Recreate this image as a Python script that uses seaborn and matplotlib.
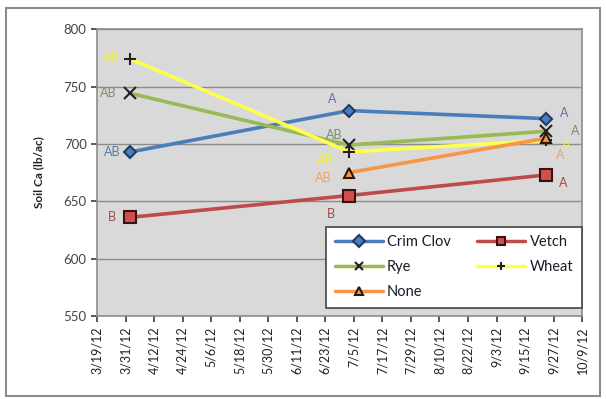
import matplotlib
matplotlib.use("Agg")
import matplotlib.pyplot as plt
import matplotlib.dates as mdates
from matplotlib.patches import Rectangle
import pandas as pd
import seaborn as sns

# Sampling dates and soil calcium by cover crop
sample_dates = ["2012-04-02", "2012-07-03", "2012-09-24"]
crim_clov = [693, 729, 722]
vetch = [636, 655, 673]
rye = [744, 699, 711]
wheat = [774, 693, 703]
none = [None, 675, 705]

# Mean-separation letters for each point
crim_letters = ["AB", "A", "A"]
vetch_letters = ["B", "B", "A"]
rye_letters = ["AB", "AB", "A"]
wheat_letters = ["AB", "AB", "A"]
none_letters = [None, "AB", "A"]

tick_start, tick_end, tick_step_days = "2012-03-19", "2012-10-09", 12

series = [
    ("Crim Clov", crim_clov, crim_letters),
    ("Vetch", vetch, vetch_letters),
    ("Rye", rye, rye_letters),
    ("Wheat", wheat, wheat_letters),
    ("None", none, none_letters),
]

styles = {
    "Crim Clov": dict(color="#4a7ebb", marker="D", mfc="#4a7ebb", mec="#1f3a66", ms=6),
    "Vetch": dict(color="#be4b48", marker="s", mfc="#d0504e", mec="#3a1010", ms=8),
    "Rye": dict(color="#98b954", marker="x", mfc="black", mec="#222222", ms=8),
    "Wheat": dict(color="#ffff4d", marker="+", mfc="black", mec="#222222", ms=8),
    "None": dict(color="#f79646", marker="^", mfc="#f79646", mec="#2a1a0a", ms=7),
}
letter_colors = {
    "Crim Clov": "#5a78a8",
    "Vetch": "#a04a48",
    "Rye": "#7d8c6c",
    "Wheat": "#f2f23a",
    "None": "#f0a070",
}
# label offsets (points) per series and sample
letter_offsets = {
    "Crim Clov": [(-13, 0), (-12, 8), (13, 4)],
    "Vetch": [(-13, 0), (-13, -13), (12, -6)],
    "Rye": [(-16, 0), (-11, 7), (21, 0)],
    "Wheat": [(-14, 1), (-17, -6), (14, -3)],
    "None": [None, (-19, -4), (10, -12)],
}

rows = []
for name, vals, _ in series:
    for d, v in zip(sample_dates, vals):
        if v is not None:
            rows.append({"date": pd.Timestamp(d), "ca": v, "cover": name})
df = pd.DataFrame(rows)

sns.set_theme(style="white")
plt.rcParams["font.family"] = ["Lato", "DejaVu Sans"]

fig = plt.figure(figsize=(6.07, 3.99), dpi=100)
ax = fig.add_axes([0.160, 0.208, 0.799, 0.719])
ax.set_facecolor("#d9d9d9")

# outer chart frame
fig.patches.append(Rectangle((6 / 607, 3 / 399), 594 / 607, 388 / 399,
                             transform=fig.transFigure, fill=False,
                             edgecolor="#8c8c8c", linewidth=1.5))

handles = {}
for name, vals, letters in series:
    st = styles[name]
    sub = df[df["cover"] == name]
    sns.lineplot(data=sub, x="date", y="ca", ax=ax, color=st["color"],
                 linewidth=2.6, marker=st["marker"], markersize=st["ms"],
                 markerfacecolor=st["mfc"], markeredgecolor=st["mec"],
                 markeredgewidth=1.5, label=name, zorder=3)
    handles[name] = ax.get_lines()[-1]
    for d, v, lab, off in zip(sample_dates, vals, letters, letter_offsets[name]):
        if v is None or lab is None:
            continue
        ax.annotate(lab, (mdates.date2num(pd.Timestamp(d)), v), xytext=off,
                    textcoords="offset points", ha="center", va="center",
                    fontsize=9, color=letter_colors[name], zorder=4)

ax.set_ylim(550, 800)
ax.set_yticks(range(550, 801, 50))
ax.grid(axis="y", color="#8c8c8c", linewidth=1)
ax.set_axisbelow(True)

tick_dates = pd.date_range(tick_start, tick_end, freq=f"{tick_step_days}D")
ax.set_xlim(mdates.date2num(tick_dates[0]), mdates.date2num(tick_dates[-1]))
ax.set_xticks(mdates.date2num(tick_dates))
ax.set_xticklabels([f"{d.month}/{d.day}/{d.strftime('%y')}" for d in tick_dates],
                   rotation=90, fontsize=9, color="#222222")
ax.tick_params(axis="y", labelsize=9.5, colors="#444444", length=4,
               direction="out", left=True)
ax.tick_params(axis="x", length=4, direction="out", bottom=True, colors="#444444")
for lab in ax.get_xticklabels():
    lab.set_color("#222222")
for s in ax.spines.values():
    s.set_color("#8c8c8c")
    s.set_linewidth(1.2)

ax.set_xlabel("")
ax.set_ylabel("Soil Ca (lb/ac)", fontsize=8.5, fontweight="bold", color="#222222",
              labelpad=14)

order = ["Crim Clov", "Rye", "None", "Vetch", "Wheat"]
leg = ax.legend([handles[n] for n in order], order, ncol=2, loc="lower right",
                bbox_to_anchor=(1.0, 0.028), borderaxespad=0, frameon=True,
                fancybox=False, fontsize=10.5, handlelength=3.3,
                handletextpad=0.3, columnspacing=1.8,
                borderpad=0.6, labelspacing=0.75)
leg.get_frame().set_edgecolor("#444444")
leg.get_frame().set_linewidth(1.2)
leg.get_frame().set_facecolor("white")
leg.get_frame().set_alpha(1)
for text in leg.get_texts():
    text.set_color("#1a1a2a")
for line in leg.get_lines():
    line.set_linewidth(2.5)
    line.set_markersize(6)

fig.savefig("out.png", dpi=100)
